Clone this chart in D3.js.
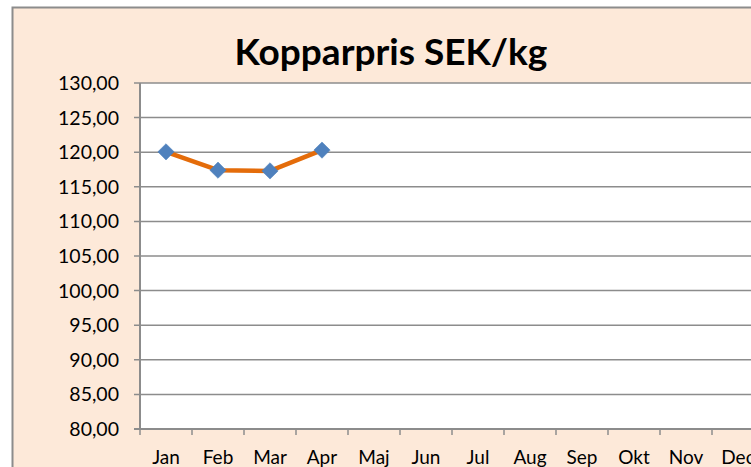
<!DOCTYPE html>
<html>
<head>
<meta charset="utf-8">
<script src="https://cdn.jsdelivr.net/npm/d3@7"></script>
<style>
  body { margin: 0; background: #fff; }
  text { font-family: Lato, "Open Sans", sans-serif; }
</style>
</head>
<body>
<div id="chart"></div>
<script>
const months = ["Jan","Feb","Mar","Apr","Maj","Jun","Jul","Aug","Sep","Okt","Nov","Dec"];
const priceMonths = ["Jan","Feb","Mar","Apr"];
const prices = [120.05, 117.4, 117.3, 120.3];
const yTicks = [80,85,90,95,100,105,110,115,120,125,130];
const title = "Kopparpris SEK/kg";

const width = 751, height = 467;
const plot = { left: 140, top: 83, right: 764, bottom: 429 };

const svg = d3.select("#chart").append("svg")
  .attr("width", width).attr("height", height);

// chart area frame
svg.append("rect")
  .attr("x", 12.5).attr("y", 7.5)
  .attr("width", 800).attr("height", 500)
  .attr("fill", "#fde9d9")
  .attr("stroke", "#8c8c8c").attr("stroke-width", 2);

svg.append("rect")
  .attr("x", plot.left).attr("y", plot.top)
  .attr("width", plot.right - plot.left).attr("height", plot.bottom - plot.top)
  .attr("fill", "#fff");

const x = d3.scaleBand().domain(months).range([plot.left, plot.right]);
const y = d3.scaleLinear().domain([80, 130]).range([plot.bottom, plot.top]);

// gridlines
svg.append("g").selectAll("line").data(yTicks).join("line")
  .attr("x1", plot.left - 6).attr("x2", plot.right)
  .attr("y1", d => y(d)).attr("y2", d => y(d))
  .attr("stroke", "#8c8c8c").attr("stroke-width", 1.5);

// y labels
const fmt = d => d.toFixed(2).replace(".", ",");
svg.append("g").selectAll("text").data(yTicks).join("text")
  .attr("x", 119).attr("y", d => y(d))
  .attr("dy", "0.36em")
  .attr("text-anchor", "end")
  .attr("font-size", 19.5)
  .attr("fill", "#000")
  .text(fmt);

// y axis line
svg.append("line")
  .attr("x1", plot.left).attr("x2", plot.left)
  .attr("y1", plot.top).attr("y2", plot.bottom)
  .attr("stroke", "#8c8c8c").attr("stroke-width", 2);

// x axis line + ticks
svg.append("line")
  .attr("x1", plot.left - 6).attr("x2", plot.right)
  .attr("y1", plot.bottom).attr("y2", plot.bottom)
  .attr("stroke", "#8c8c8c").attr("stroke-width", 2);

svg.append("g").selectAll("line").data(months).join("line")
  .attr("x1", d => x(d)).attr("x2", d => x(d))
  .attr("y1", plot.bottom).attr("y2", plot.bottom + 6)
  .attr("stroke", "#8c8c8c").attr("stroke-width", 1.5);

svg.append("g").selectAll("text").data(months).join("text")
  .attr("x", d => x(d) + x.bandwidth() / 2)
  .attr("y", plot.bottom + 35)
  .attr("text-anchor", "middle")
  .attr("font-size", 19)
  .attr("fill", "#000")
  .text(d => d);

// line
const pts = priceMonths.map((m, i) => ({ m, v: prices[i] }));
const line = d3.line().x(d => x(d.m) + x.bandwidth() / 2).y(d => y(d.v));
svg.append("path").datum(pts)
  .attr("d", line)
  .attr("fill", "none")
  .attr("stroke", "#e46c0a")
  .attr("stroke-width", 4.5)
  .attr("stroke-linejoin", "round");

svg.append("g").selectAll("path").data(pts).join("path")
  .attr("transform", d => `translate(${x(d.m) + x.bandwidth() / 2},${y(d.v)})`)
  .attr("d", d3.symbol(d3.symbolDiamond2, 170)())
  .attr("fill", "#4f81bd")
  .attr("stroke", "#4a7ebb").attr("stroke-width", 0.5);

// title
svg.append("text")
  .attr("x", 391).attr("y", 65)
  .attr("text-anchor", "middle")
  .attr("font-size", 37)
  .attr("font-weight", "bold")
  .attr("fill", "#000")
  .text(title);
</script>
</body>
</html>
